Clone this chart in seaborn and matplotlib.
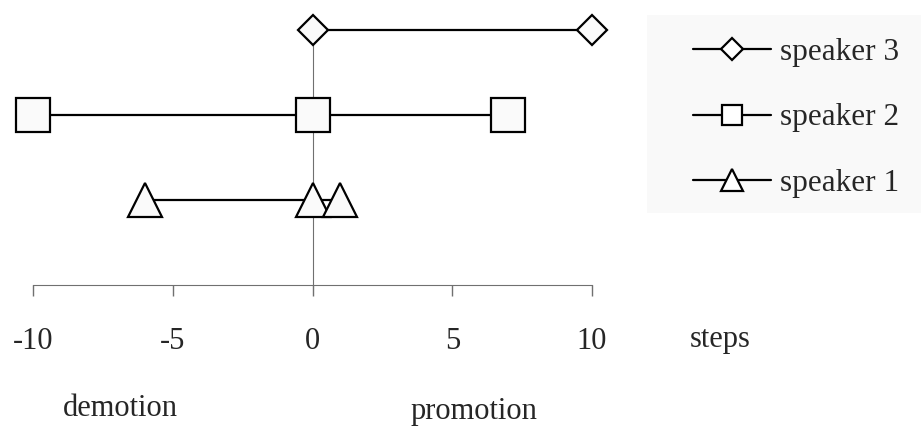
import seaborn as sns
import matplotlib.pyplot as plt
import pandas as pd
from matplotlib.lines import Line2D
from matplotlib.patches import Rectangle

# data: steps moved per speaker
speakers = ['speaker 1', 'speaker 2', 'speaker 3']
speaker1_steps = [-6, 0, 1]
speaker2_steps = [-10, 0, 7]
speaker3_steps = [0, 10]
speaker_levels = [1, 2, 3]
xticks = [-10, -5, 0, 5, 10]

sns.set_style('white')
plt.rcParams['font.family'] = ['Liberation Serif', 'DejaVu Serif']

rows = []
for name, steps, lev in zip(speakers, [speaker1_steps, speaker2_steps, speaker3_steps], speaker_levels):
    for s in steps:
        rows.append({'speaker': name, 'step': s, 'level': lev})
df = pd.DataFrame(rows)

fig = plt.figure(figsize=(9.21, 4.26), dpi=100)
ax = fig.add_axes([33/921, 1-285/426, (592-33)/921, (285-30)/426])

markers = {'speaker 1': '^', 'speaker 2': 's', 'speaker 3': 'D'}
sizes = {'speaker 1': 25, 'speaker 2': 25, 'speaker 3': 15.5}
for name in speakers:
    sub = df[df['speaker'] == name]
    sns.lineplot(data=sub, x='step', y='level', sort=False, ax=ax, color='black',
                 lw=1.6, marker=markers[name], markersize=sizes[name],
                 markerfacecolor='#fafafa', markeredgecolor='black',
                 markeredgewidth=1.6, clip_on=False, zorder=3, legend=False)

ax.set_xlim(-10, 10)
ax.set_ylim(0, 3)
ax.set_xlabel('')
ax.set_ylabel('')
ax.set_yticks([])
ax.set_xticks(xticks)
ax.set_xticklabels([str(t) for t in xticks], fontsize=22)
ax.tick_params(axis='x', direction='out', length=8, width=1, color='#707070', pad=22, bottom=True)
for sp in ['top', 'right']:
    ax.spines[sp].set_visible(False)
ax.spines['left'].set_position(('data', 0))
ax.spines['left'].set_color('#707070')
ax.spines['left'].set_zorder(1)
ax.spines['bottom'].set_color('#707070')
ax.patch.set_alpha(0)

# legend on grey panel
fig.patches.append(Rectangle((647/921, 1-213/426), (921-647)/921, (213-15)/426,
                             transform=fig.transFigure, facecolor='#f9f9f9',
                             edgecolor='none', zorder=0))
handles = [
    Line2D([], [], color='black', lw=1.6, marker='D', markersize=11, markerfacecolor='white', markeredgewidth=1.6),
    Line2D([], [], color='black', lw=1.6, marker='s', markersize=15, markerfacecolor='white', markeredgewidth=1.6),
    Line2D([], [], color='black', lw=1.6, marker='^', markersize=16.5, markerfacecolor='white', markeredgewidth=1.6),
]
fig.legend(handles, ['speaker 3', 'speaker 2', 'speaker 1'], loc='center left',
           bbox_to_anchor=(677/921, 1-118/426), frameon=False, fontsize=22.5,
           handlelength=2.5, handletextpad=0.3, labelspacing=1.17, borderpad=0)

fig.text(720/921, 1-340/426, 'steps', fontsize=22, ha='center', va='center')
fig.text(120/921, 1-408/426, 'demotion', fontsize=22, ha='center', va='center')
fig.text(474/921, 1-411/426, 'promotion', fontsize=22, ha='center', va='center')

fig.savefig('out.png', dpi=100)
